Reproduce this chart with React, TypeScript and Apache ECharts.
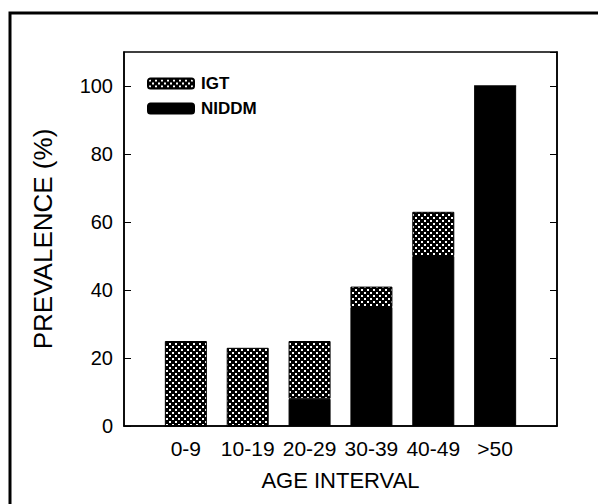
import React, { useEffect, useRef } from "react";
import * as echarts from "echarts";

const categories = ["", "0-9", "10-19", "20-29", "30-39", "40-49", ">50", ""];
const niddm = ["-", 0, 0, 8, 35, 50, 100, "-"];
const igt = ["-", 25, 23, 17, 6, 13, 0, "-"];
const yTicks = { min: 0, max: 110, interval: 20 };

function makePattern(): HTMLCanvasElement {
  const c = document.createElement("canvas");
  c.width = 6;
  c.height = 6;
  const ctx = c.getContext("2d")!;
  ctx.fillStyle = "#000";
  ctx.fillRect(0, 0, 6, 6);
  ctx.fillStyle = "#fff";
  ctx.fillRect(1, 1, 2, 2);
  ctx.fillRect(4, 4, 2, 2);
  return c;
}

export default function App() {
  const ref = useRef<HTMLDivElement>(null);
  useEffect(() => {
    document.body.style.margin = "0";
    const chart = echarts.init(ref.current!, undefined, { renderer: "svg" });
    const pattern = { image: makePattern(), repeat: "repeat" } as any;
    const font = "'Liberation Sans', Arial, sans-serif";
    chart.setOption({
      animation: false,
      backgroundColor: "#fff",
      textStyle: { fontFamily: font, color: "#000" },
      graphic: [
        {
          type: "rect",
          shape: { x: 10, y: 13, width: 640, height: 600 },
          style: { fill: "none", stroke: "#000", lineWidth: 3 },
          silent: true,
        },
      ],
      grid: {
        left: 124,
        right: 41,
        top: 52,
        bottom: 78,
        show: true,
        borderColor: "#000",
        borderWidth: 1.5,
        backgroundColor: "transparent",
      },
      legend: {
        orient: "vertical",
        left: 142,
        top: 70,
        itemWidth: 46,
        itemHeight: 10,
        itemGap: 8,
        data: ["IGT", "NIDDM"],
        textStyle: {
          fontFamily: font,
          fontWeight: "bold",
          fontSize: 17,
          color: "#000",
          padding: [0, 0, 0, 2],
        },
      },
      xAxis: {
        type: "category",
        data: categories,
        boundaryGap: false,
        axisLine: { show: true, lineStyle: { color: "#000", width: 1.5 } },
        axisTick: { show: false },
        axisLabel: {
          interval: 0,
          margin: 12,
          fontSize: 21,
          color: "#000",
          fontFamily: font,
        },
        name: "AGE INTERVAL",
        nameLocation: "middle",
        nameGap: 43,
        nameTextStyle: { fontSize: 22, color: "#000", fontFamily: font },
        splitLine: { show: false },
      },
      yAxis: [
        {
          type: "value",
          min: yTicks.min,
          max: yTicks.max,
          interval: yTicks.interval,
          position: "left",
          axisLine: { show: true, lineStyle: { color: "#000", width: 1.5 } },
          axisTick: { show: true, inside: true, length: 7, lineStyle: { color: "#000", width: 1 } },
          axisLabel: {
            margin: 11,
            fontSize: 20,
            color: "#000",
            fontFamily: font,
            showMaxLabel: false,
          },
          splitLine: { show: false },
          name: "PREVALENCE (%)",
          nameLocation: "middle",
          nameGap: 68,
          nameTextStyle: { fontSize: 26, color: "#000", fontFamily: font },
        },
        {
          type: "value",
          min: yTicks.min,
          max: yTicks.max,
          interval: yTicks.interval,
          position: "right",
          axisLine: { show: true, lineStyle: { color: "#000", width: 1.5 } },
          axisTick: { show: true, inside: true, length: 7, lineStyle: { color: "#000", width: 1 } },
          axisLabel: { show: false },
          splitLine: { show: false },
        },
      ],
      series: [
        {
          name: "NIDDM",
          type: "bar",
          stack: "total",
          data: niddm,
          barWidth: 42,
          itemStyle: { color: "#000", borderColor: "#000", borderWidth: 1 },
        },
        {
          name: "IGT",
          type: "bar",
          stack: "total",
          data: igt,
          barWidth: 42,
          itemStyle: { color: pattern, borderColor: "#000", borderWidth: 1 },
        },
      ],
    });
    return () => chart.dispose();
  }, []);
  return <div ref={ref} style={{ width: 598, height: 504 }} />;
}
